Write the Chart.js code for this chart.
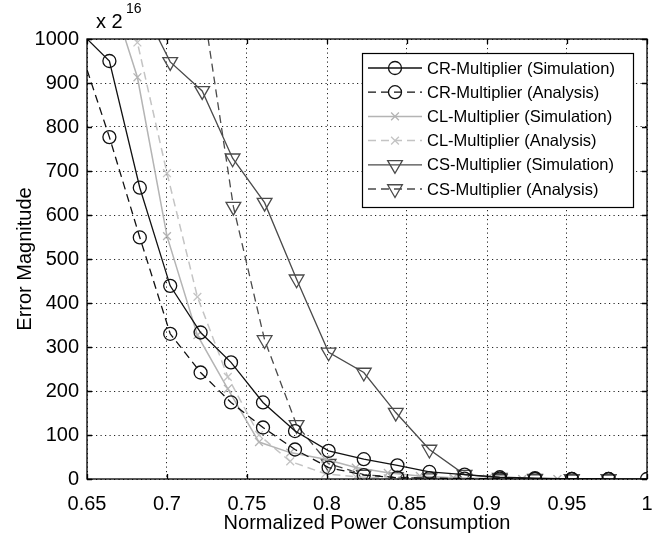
<!DOCTYPE html>
<html lang="en">
  <head>
    <meta charset="UTF-8" />
    <title>Error magnitude vs power</title>
    <style>
      * { margin: 0; padding: 0; box-sizing: border-box; }
      body { background: #fff; }
      .chartBox { width: 670px; height: 540px; }
    </style>
  </head>
  <body>
    <div class="chartBox">
      <canvas id="myChart" width="670" height="540"></canvas>
    </div>

    <script src="https://cdn.jsdelivr.net/npm/chart.js"></script>

    <script>
      // axis ticks
      const xTicks = [0.65, 0.7, 0.75, 0.8, 0.85, 0.9, 0.95, 1];
      const yTicks = [0, 100, 200, 300, 400, 500, 600, 700, 800, 900, 1000];

      // series (first point of some lies just outside the axes)
      const crSimX = [0.645, 0.664, 0.683, 0.702, 0.721, 0.740, 0.760, 0.780, 0.801, 0.823, 0.844, 0.864, 0.886, 0.908, 0.930, 0.953, 0.976, 1.0];
      const crSimY = [1018, 950, 662, 439, 333, 265, 174, 109, 64, 45, 31, 16, 10, 4, 2, 0, 0, 0];
      const crAnaX = [0.645, 0.664, 0.683, 0.702, 0.721, 0.740, 0.760, 0.780, 0.801, 0.823, 0.844, 0.864, 0.886, 0.908, 0.930, 0.953, 0.976];
      const crAnaY = [985, 777, 549, 330, 242, 174, 117, 67, 26, 9, 3, 2, 1, 1, 0, 0, 0];
      const clSimX = [0.6625, 0.6815, 0.700, 0.719, 0.738, 0.7575, 0.777, 0.799, 0.818, 0.838, 0.858, 0.879, 0.900, 0.922, 0.944];
      const clSimY = [1130, 913, 552, 327, 205, 84, 60, 45, 26, 14, 7, 3, 1, 0, 0];
      const clAnaX = [0.6625, 0.6815, 0.700, 0.719, 0.738, 0.7575, 0.777, 0.799, 0.818, 0.838, 0.858, 0.879, 0.900, 0.922, 0.944];
      const clAnaY = [1300, 992, 695, 414, 232, 100, 40, 12, 5, 2, 1, 0, 0, 0, 0];
      const csSimX = [0.681, 0.702, 0.722, 0.741, 0.761, 0.781, 0.801, 0.823, 0.843, 0.864, 0.886, 0.908, 0.930, 0.953, 0.976];
      const csSimY = [1100, 948, 882, 729, 628, 454, 288, 242, 151, 67, 10, 3, 1, 0, 0];
      const csAnaX = [0.722, 0.7415, 0.761, 0.781, 0.801, 0.823, 0.843, 0.864, 0.886, 0.908, 0.930, 0.953, 0.976];
      const csAnaY = [1090, 619, 316, 123, 35, 10, 4, 2, 1, 0, 0, 0, 0];

      const labels = [
        "CR-Multiplier (Simulation)",
        "CR-Multiplier (Analysis)",
        "CL-Multiplier (Simulation)",
        "CL-Multiplier (Analysis)",
        "CS-Multiplier (Simulation)",
        "CS-Multiplier (Analysis)",
      ];

      const FONT = "'Liberation Sans', Arial, sans-serif";
      const DASH = [8, 5];

      const zip = (xs, ys) => xs.map((x, i) => ({ x: x, y: ys[i] }));

      // marker sizes per style
      const sizeOf = { circle: 6.5, crossRot: 5.5, triangle: 8.5 };

      function makeSet(label, xs, ys, color, dashed, style) {
        const r = sizeOf[style];
        return {
          label: label,
          data: zip(xs, ys),
          borderColor: color,
          borderWidth: style === "crossRot" ? 1.5 : 1.3,
          borderDash: dashed ? DASH : [],
          pointStyle: style,
          pointRotation: style === "triangle" ? 180 : 0,
          pointBorderColor: color,
          pointBackgroundColor: "rgba(0,0,0,0)",
          pointBorderWidth: 1.3,
          pointRadius: (c) => {
            const p = c.raw;
            return p && p.x >= 0.65 && p.y <= 1000 ? r : 0;
          },
          tension: 0,
          fill: false,
        };
      }

      const data = {
        datasets: [
          makeSet(labels[0], crSimX, crSimY, "#111111", false, "circle"),
          makeSet(labels[1], crAnaX, crAnaY, "#111111", true, "circle"),
          makeSet(labels[2], clSimX, clSimY, "#b4b4b4", false, "crossRot"),
          makeSet(labels[3], clAnaX, clAnaY, "#c4c4c4", true, "crossRot"),
          makeSet(labels[4], csSimX, csSimY, "#4a4a4a", false, "triangle"),
          makeSet(labels[5], csAnaX, csAnaY, "#4a4a4a", true, "triangle"),
        ],
      };

      function marker(ctx, style, x, y, color) {
        const r = sizeOf[style];
        ctx.save();
        ctx.setLineDash([]);
        ctx.strokeStyle = color;
        ctx.lineWidth = 1.3;
        ctx.beginPath();
        if (style === "circle") {
          ctx.arc(x, y, r, 0, Math.PI * 2);
        } else if (style === "crossRot") {
          const d = r * Math.SQRT1_2;
          ctx.moveTo(x - d, y - d); ctx.lineTo(x + d, y + d);
          ctx.moveTo(x + d, y - d); ctx.lineTo(x - d, y + d);
        } else {
          for (let k = 0; k < 3; k++) {
            const a = Math.PI + (k * 2 * Math.PI) / 3;
            const px = x + Math.sin(a) * r;
            const py = y - Math.cos(a) * r;
            k === 0 ? ctx.moveTo(px, py) : ctx.lineTo(px, py);
          }
          ctx.closePath();
        }
        ctx.stroke();
        ctx.restore();
      }

      // box, inward tick marks, exponent note, legend
      const frame = {
        id: "frame",
        afterDatasetsDraw(chart) {
          const { ctx, chartArea: a, scales } = chart;
          ctx.save();
          ctx.strokeStyle = "#000";
          ctx.lineWidth = 1.3;
          ctx.setLineDash([]);
          ctx.strokeRect(a.left, a.top, a.right - a.left, a.bottom - a.top);
          ctx.beginPath();
          xTicks.forEach((v) => {
            const px = Math.round(scales.x.getPixelForValue(v)) + 0.5;
            ctx.moveTo(px, a.bottom); ctx.lineTo(px, a.bottom - 5);
            ctx.moveTo(px, a.top); ctx.lineTo(px, a.top + 5);
          });
          yTicks.forEach((v) => {
            const py = Math.round(scales.y.getPixelForValue(v)) + 0.5;
            ctx.moveTo(a.left, py); ctx.lineTo(a.left + 5, py);
            ctx.moveTo(a.right, py); ctx.lineTo(a.right - 5, py);
          });
          ctx.stroke();

          ctx.fillStyle = "#000";
          ctx.textBaseline = "alphabetic";
          ctx.textAlign = "left";
          ctx.font = "20px " + FONT;
          ctx.fillText("x 2", a.left + 9, a.top - 11);
          ctx.font = "14px " + FONT;
          ctx.fillText("16", a.left + 39, a.top - 26);
          ctx.restore();
        },
        afterDraw(chart) {
          const { ctx, chartArea: a, data } = chart;
          const w = 271, h = 154;
          const left = a.right - 14 - w;
          const top = a.top + 14;
          ctx.save();
          ctx.fillStyle = "#fff";
          ctx.fillRect(left, top, w, h);
          ctx.strokeStyle = "#000";
          ctx.lineWidth = 1.2;
          ctx.strokeRect(left + 0.5, top + 0.5, w, h);
          ctx.font = "16.5px " + FONT;
          ctx.textBaseline = "middle";
          ctx.textAlign = "left";
          data.datasets.forEach((ds, i) => {
            const yy = top + 15 + i * 24.2;
            ctx.save();
            ctx.strokeStyle = ds.borderColor;
            ctx.lineWidth = ds.borderWidth;
            ctx.setLineDash(ds.borderDash);
            ctx.beginPath();
            ctx.moveTo(left + 6, yy);
            ctx.lineTo(left + 60, yy);
            ctx.stroke();
            ctx.restore();
            marker(ctx, ds.pointStyle, left + 33, yy, ds.borderColor);
            ctx.fillStyle = "#000";
            ctx.fillText(ds.label, left + 65, yy + 1);
          });
          ctx.restore();
        },
      };

      const tickFont = { family: FONT, size: 20 };

      const config = {
        type: "line",
        data: data,
        options: {
          responsive: false,
          animation: false,
          events: [],
          layout: { padding: { left: 0, top: 39, right: 23, bottom: 0 } },
          plugins: {
            legend: { display: false },
            tooltip: { enabled: false },
          },
          scales: {
            x: {
              type: "linear",
              min: 0.65,
              max: 1,
              afterBuildTicks: (s) => { s.ticks = xTicks.map((v) => ({ value: v })); },
              afterFit: (s) => { s.height = 61; },
              ticks: {
                color: "#000",
                font: tickFont,
                padding: 13,
                maxRotation: 0,
                autoSkip: false,
                callback: (v) => String(v),
              },
              grid: { color: "#222", lineWidth: 1, drawTicks: false },
              border: { display: false, dash: [1.2, 3.3] },
              title: {
                display: true,
                text: "Normalized Power Consumption",
                color: "#000",
                font: tickFont,
                padding: { top: 0, bottom: 5 },
              },
            },
            y: {
              type: "linear",
              min: 0,
              max: 1000,
              afterBuildTicks: (s) => { s.ticks = yTicks.map((v) => ({ value: v })); },
              afterFit: (s) => { s.width = 87; },
              ticks: {
                color: "#000",
                font: tickFont,
                padding: 8,
                autoSkip: false,
                callback: (v) => String(v),
              },
              grid: { color: "#222", lineWidth: 1, drawTicks: false },
              border: { display: false, dash: [1.2, 3.3] },
              title: {
                display: true,
                text: "Error Magnitude",
                color: "#000",
                font: tickFont,
                padding: { top: 13, bottom: 0 },
              },
            },
          },
        },
        plugins: [frame],
      };

      const myChart = new Chart(document.getElementById("myChart"), config);
    </script>
  </body>
</html>
